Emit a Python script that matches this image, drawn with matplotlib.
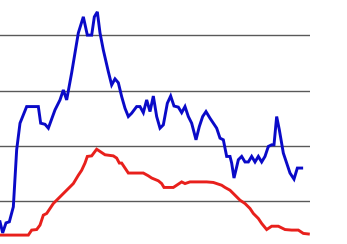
#!/usr/bin/env python3
"""Two weekly series (blue, red) on a bare horizontal-grid panel."""

import matplotlib as mpl

mpl.use("Agg")

import matplotlib.pyplot as plt

# values
BLUE_T = [0, 0.8, 1.8, 2.8, 4.0, 5.0, 6.0, 8.0, 11.5, 12.2, 13.5, 14.5, 16.5, 18.0,
          19.0, 20.0, 21.5, 23.5, 25.0, 26.2, 27.5, 28.3, 29.2, 30.0, 31.0, 32.5,
          33.5, 34.5, 35.5, 36.5, 37.5, 38.5, 39.5, 41.0, 42.0, 43.0, 44.0, 45.0,
          46.0, 47.0, 48.0, 49.0, 50.2, 51.2, 52.2, 53.5, 54.5, 55.5, 56.5, 57.5,
          58.8, 59.8, 60.8, 61.8, 63.0, 64.0, 65.0, 66.0, 67.0, 68.0, 69.0, 69.5,
          70.2, 71.0, 71.5, 72.5, 73.5, 74.5, 75.5, 76.5, 77.5, 78.5, 79.5, 80.5,
          81.5, 82.2, 83.0, 83.8, 85.0, 86.0, 87.0, 88.2, 89.2, 90.5]
BLUE_V = [6.3, 4.3, 6.1, 6.3, 9.0, 19.3, 24.1, 27.1, 27.1, 24.1, 23.9, 23.2, 26.5, 28.3,
          30.1, 28.3, 33.2, 40.4, 43.3, 40.0, 40.0, 43.3, 44.2, 40.4, 37.3, 33.4,
          31.0, 32.1, 31.4, 28.9, 26.8, 25.3, 25.9, 27.1, 27.1, 26.0, 28.3, 26.2,
          29.0, 25.3, 23.2, 23.8, 27.7, 29.0, 27.2, 27.0, 26.0, 27.1, 25.3, 24.1,
          21.1, 23.5, 25.3, 26.2, 25.0, 24.1, 23.2, 21.4, 21.1, 18.1, 18.1, 16.9,
          14.2, 16.2, 17.5, 18.1, 17.1, 17.1, 18.1, 17.1, 18.1, 17.1, 18.1, 19.9,
          20.2, 20.2, 25.3, 22.9, 18.7, 16.9, 15.1, 14.0, 16.0, 16.0]

RED_T = [0, 8.5, 9.5, 11.0, 12.0, 13.0, 14.0, 15.0, 16.0, 17.5, 19.0, 20.5, 22.0, 23.5,
         24.5, 25.5, 26.2, 27.5, 29.0, 30.0, 31.5, 34.0, 35.0, 35.8, 36.5, 37.5,
         38.5, 43.0, 44.5, 45.5, 47.5, 48.5, 49.2, 52.0, 53.0, 54.5, 55.5, 57.0,
         62.0, 64.0, 66.5, 67.5, 69.0, 70.5, 72.0, 73.5, 75.0, 76.0, 77.5, 78.5,
         80.0, 81.5, 83.5, 85.5, 87.5, 89.5, 91.0, 92.5]
RED_V = [3.9, 3.9, 4.8, 4.9, 5.7, 7.5, 7.8, 8.7, 9.6, 10.5, 11.4, 12.3, 13.2, 14.7,
         15.6, 16.9, 18.1, 18.2, 19.4, 19.0, 18.4, 18.2, 17.8, 16.9, 16.9, 16.0,
         15.1, 15.1, 14.6, 14.2, 13.7, 13.2, 12.5, 12.5, 12.9, 13.5, 13.2, 13.5,
         13.5, 13.4, 12.9, 12.5, 12.0, 11.1, 10.2, 9.6, 8.7, 7.8, 6.9, 6.0,
         4.9, 5.5, 5.5, 4.9, 4.8, 4.8, 4.2, 4.1]

GRID_LEVELS = [10, 20, 30, 40]


def main() -> None:
    fig = plt.figure(figsize=(3.47, 2.44), dpi=100)
    ax = fig.add_axes([0.0, 0.0, 310 / 347, 1.0])

    for level in GRID_LEVELS:
        ax.axhline(level, color="0.35", lw=1.0, zorder=0)

    ax.plot(RED_T, RED_V, color="#e8201c", lw=2.1, solid_joinstyle="miter")
    ax.plot(BLUE_T, BLUE_V, color="#0a0ac8", lw=2.1, solid_joinstyle="miter")

    ax.set_xlim(0, 93)
    ax.set_ylim(2.29, 46.34)
    ax.axis("off")

    fig.savefig("out.png", dpi=100)
    plt.close(fig)


if __name__ == "__main__":
    main()
